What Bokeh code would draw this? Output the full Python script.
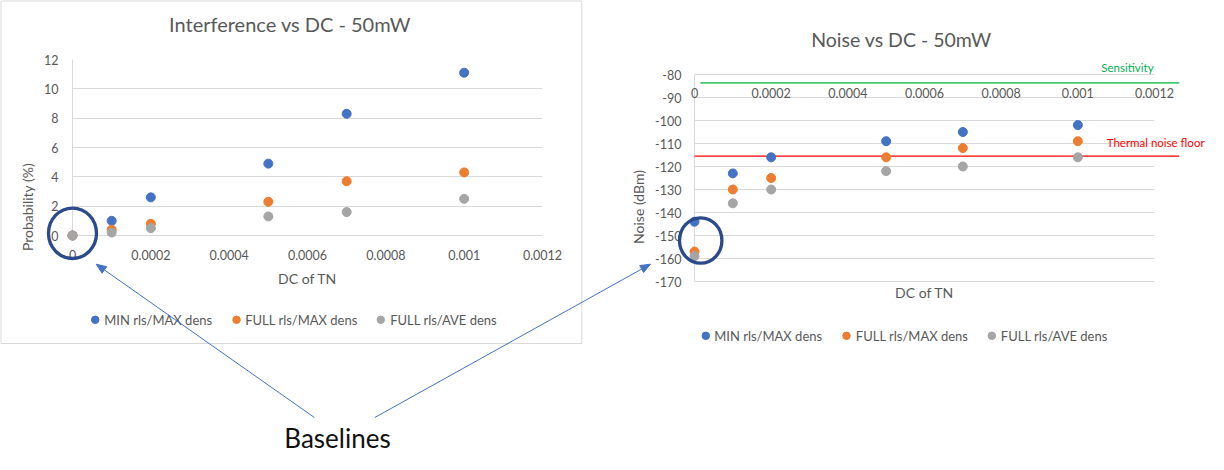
import math
from bokeh.plotting import figure
from bokeh.layouts import row
from bokeh.models import Range1d, FixedTicker, LinearAxis, Grid
from bokeh.core.properties import value
from bokeh.embed import file_html
from bokeh.resources import INLINE

# ---------------- data ----------------
dc_values = [0, 0.0001, 0.0002, 0.0005, 0.0007, 0.001]
series_names = ["MIN rls/MAX dens", "FULL rls/MAX dens", "FULL rls/AVE dens"]
series_colors = ["#4472C4", "#ED7D31", "#A5A5A5"]

prob_min_max = [0, 1.0, 2.6, 4.9, 8.3, 11.1]
prob_full_max = [0, 0.4, 0.8, 2.3, 3.7, 4.3]
prob_full_ave = [0, 0.2, 0.5, 1.3, 1.6, 2.5]

noise_min_max = [-144, -123, -116, -109, -105, -102]
noise_full_max = [-157, -130, -125, -116, -112, -109]
noise_full_ave = [-159, -136, -130, -122, -120, -116]

x_ticks = [0, 0.0002, 0.0004, 0.0006, 0.0008, 0.001, 0.0012]
x_tick_labels = ["0", "0.0002", "0.0004", "0.0006", "0.0008", "0.001", "0.0012"]
prob_ticks = [0, 2, 4, 6, 8, 10, 12]
prob_tick_labels = ["0", "2", "4", "6", "8", "10", "12"]
noise_ticks = [-170, -160, -150, -140, -130, -120, -110, -100, -90, -80]
noise_tick_labels = ["-170", "-160", "-150", "-140", "-130", "-120", "-110", "-100", "-90", "-80"]

threshold_names = ["Sensitivity", "Thermal noise floor"]
threshold_values = [-83.6, -115.5]
threshold_line_colors = ["#45C872", "#FF0000"]
threshold_text_colors = ["#00B050", "#FF0000"]

FONT = "Lato"
GREY_TXT = "#595959"
GRID = "#D9D9D9"
RING = "#2B4A8B"
ARROW = "#4472C4"
H = 454
TOP, BOTTOM = 59, 100          # shared frame top / bottom border (px)
FB = H - BOTTOM                # frame bottom pixel


def base_fig(W, left, right, xr, yr):
    p = figure(width=W, height=H, x_range=xr, y_range=yr, output_backend="svg",
               toolbar_location=None, x_axis_type=None, y_axis_type=None,
               min_border_left=left, min_border_right=right,
               min_border_top=TOP, min_border_bottom=BOTTOM)
    p.outline_line_color = None
    p.background_fill_color = "white"
    p.border_fill_color = "white"
    # pixel ranges: data value == canvas pixel
    p.extra_x_ranges = {"px": Range1d(left, W - right)}
    p.extra_y_ranges = {"py": Range1d(FB, TOP)}
    return p


def style_axis(ax, standoff, label_standoff):
    ax.major_tick_out = 0
    ax.major_tick_in = 0
    ax.minor_tick_out = 0
    ax.minor_tick_in = 0
    ax.axis_line_color = GRID
    ax.major_label_text_font = FONT
    ax.major_label_text_font_size = "12.5px"
    ax.major_label_text_color = GREY_TXT
    ax.major_label_standoff = standoff
    ax.axis_label_text_font = FONT
    ax.axis_label_text_font_size = "14px"
    ax.axis_label_text_font_style = "normal"
    ax.axis_label_text_color = GREY_TXT
    ax.axis_label_standoff = label_standoff


def text(p, x, y, s, size, color, align="center"):
    p.text(x=[x], y=[y], text=[s], text_font=value(FONT), text_font_size=value(size),
           text_color=color, text_align=align, text_baseline="middle",
           x_range_name="px", y_range_name="py", level="overlay")


def x_tick_texts(p, y):
    p.text(x=x_ticks, y=[y] * len(x_ticks), text=x_tick_labels, text_font=value(FONT),
           text_font_size=value("12.5px"), text_color=GREY_TXT, text_align="center",
           text_baseline="middle", y_range_name="py", level="overlay")


def arrow(p, xs, ys, xe, ye, L=10.0, Wd=8.0):
    dx, dy = xe - xs, ye - ys
    n = math.hypot(dx, dy)
    ux, uy = dx / n, dy / n
    bx, by = xe - L * ux, ye - L * uy
    nx, ny = -uy, ux
    p.segment(x0=[xs], y0=[ys], x1=[bx], y1=[by], line_color=ARROW, line_width=1,
              x_range_name="px", y_range_name="py", level="overlay")
    p.patch(x=[xe, bx + Wd / 2 * nx, bx - Wd / 2 * nx],
            y=[ye, by + Wd / 2 * ny, by - Wd / 2 * ny],
            fill_color=ARROW, line_color=ARROW, line_width=1,
            x_range_name="px", y_range_name="py", level="overlay")


def manual_legend(p, marker_x, text_x, y):
    for mx, tx, name, c in zip(marker_x, text_x, series_names, series_colors):
        p.scatter(x=[mx], y=[y], size=7.5, fill_color=c, line_color=c,
                  x_range_name="px", y_range_name="py", level="overlay")
        text(p, tx, y, name, "13px", GREY_TXT, align="left")


# ---------------- left chart ----------------
W1 = 590
L_ZERO_PX = 235.0   # pixel row of probability 0
ppu1 = (L_ZERO_PX - TOP) / (prob_ticks[-1] - prob_ticks[0])
y_lo1 = prob_ticks[0] - (FB - L_ZERO_PX) / ppu1
p1 = base_fig(W1, 72, 48, Range1d(x_ticks[0], x_ticks[-1]), Range1d(y_lo1, prob_ticks[-1]))

p1.add_layout(Grid(dimension=1, ticker=FixedTicker(ticks=prob_ticks),
                   grid_line_color=GRID, grid_line_width=1))

xa1 = LinearAxis(ticker=FixedTicker(ticks=[]), axis_label="DC of TN",
                 fixed_location=prob_ticks[0], bounds=(x_ticks[0], x_ticks[-1]))
style_axis(xa1, 0, 34)
p1.add_layout(xa1, "below")

ya1 = LinearAxis(ticker=FixedTicker(ticks=prob_ticks),
                 major_label_overrides=dict(zip(prob_ticks, prob_tick_labels)),
                 axis_label="Probability (%)", bounds=(prob_ticks[0], prob_ticks[-1]))
style_axis(ya1, 14, 5)
p1.add_layout(ya1, "left")

x_tick_texts(p1, 254.7)

for ys, c in zip([prob_min_max, prob_full_max, prob_full_ave], series_colors):
    p1.scatter(x=dc_values, y=ys, size=9, fill_color=c, line_color=c, level="overlay")

manual_legend(p1, [94.7, 236.0, 380.3], [103.7, 244.7, 389.7], 319.3)

# chart border (pixel coordinates)
p1.segment(x0=[0.5, 581.3, 0.5, 0.5], y0=[0.5, 0.5, 343, 0.5],
           x1=[0.5, 581.3, 581.3, 581.3], y1=[343, 343, 343, 0.5],
           line_color=GRID, line_width=1, x_range_name="px", y_range_name="py",
           level="overlay")

text(p1, 289.5, 23.7, "Interference vs DC - 50mW", "20px", GREY_TXT)

# baseline ring
p1.ellipse(x=[72], y=[232.8], width=48, height=50.4, width_units="screen",
           height_units="screen", fill_color=None, line_color=RING, line_width=3.3,
           x_range_name="px", y_range_name="py", level="overlay")

arrow(p1, 313.9, 417.0, 95.7, 263.7)
arrow(p1, 374.3, 417.0, 649.9, 263.7)
text(p1, 337, 437.5, "Baselines", "26px", "#111111")

# ---------------- right chart ----------------
W2 = 1208 - W1
R_TOP_PX = 74.0     # pixel row of -80 dBm
R_BOT_PX = 281.0    # pixel row of -170 dBm
ppu2 = (R_BOT_PX - R_TOP_PX) / (noise_ticks[-1] - noise_ticks[0])
y_hi2 = noise_ticks[-1] + (R_TOP_PX - TOP) / ppu2
y_lo2 = noise_ticks[0] - (FB - R_BOT_PX) / ppu2
p2 = base_fig(W2, 104, 54, Range1d(x_ticks[0], x_ticks[-1]), Range1d(y_lo2, y_hi2))

p2.add_layout(Grid(dimension=1, ticker=FixedTicker(ticks=noise_ticks),
                   grid_line_color=GRID, grid_line_width=1))

xb2 = LinearAxis(ticker=FixedTicker(ticks=[]), axis_label="DC of TN",
                 fixed_location=noise_ticks[0], bounds=(x_ticks[0], x_ticks[-1]))
style_axis(xb2, 0, 2)
p2.add_layout(xb2, "below")

ya2 = LinearAxis(ticker=FixedTicker(ticks=noise_ticks),
                 major_label_overrides=dict(zip(noise_ticks, noise_tick_labels)),
                 axis_label="Noise (dBm)", bounds=(noise_ticks[0], noise_ticks[-1]))
style_axis(ya2, 13, 5)
p2.add_layout(ya2, "left")

x_tick_texts(p2, 92)

# threshold lines (y from data, x extents in pixels)
p2.segment(x0=[109.9, 104], x1=[588.7, 588.7], y0=threshold_values, y1=threshold_values,
           line_color=threshold_line_colors, line_width=[1.8, 1.3],
           x_range_name="px", level="overlay")

for ys, c in zip([noise_min_max, noise_full_max, noise_full_ave], series_colors):
    p2.scatter(x=dc_values, y=ys, size=9, fill_color=c, line_color=c, level="overlay")

manual_legend(p2, [115.3, 256.0, 401.3], [123.7, 265.3, 410.3], 335.3)

text(p2, 310.9, 39.3, "Noise vs DC - 50mW", "19.5px", GREY_TXT)
text(p2, 510.8, 67, threshold_names[0], "11.5px", threshold_text_colors[0], align="left")
text(p2, 516.2, 142, threshold_names[1], "11.5px", threshold_text_colors[1], align="left")

p2.ellipse(x=[110.2], y=[240], width=42.4, height=45.4, width_units="screen",
           height_units="screen", fill_color=None, line_color=RING, line_width=3.3,
           x_range_name="px", y_range_name="py", level="overlay")

arrow(p2, 374.3 - W1, 417.0, 649.9 - W1, 263.7)

layout = row(p1, p2)
open("out.html", "w").write(file_html(layout, INLINE))
